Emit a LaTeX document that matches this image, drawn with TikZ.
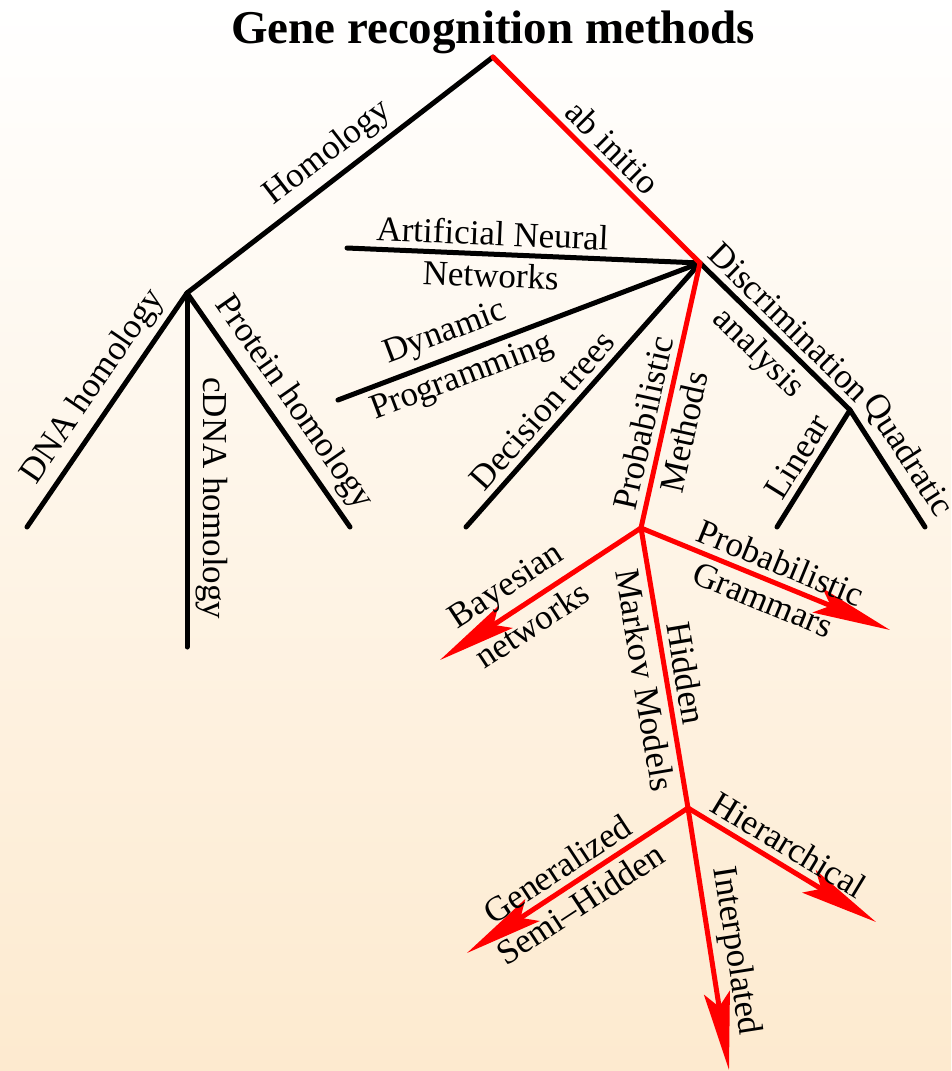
\documentclass[tikz,border=0pt]{standalone}
\usepackage{fontspec}
\setmainfont{Liberation Serif}
\usetikzlibrary{arrows.meta}
\definecolor{peach}{RGB}{253,234,207}

\begin{document}
\begin{tikzpicture}[x=1pt, y=-1pt, line cap=round]
\tikzset{
  bk/.style={line width=5pt, black},
  rd/.style={line width=5pt, red},
  ar/.style={rd, -{Stealth[length=78pt, width=26pt, inset=14pt]}},
  lab/.style={font=\fontsize{35}{40}\selectfont, text=black, sloped, inner sep=6pt}}

\shade[use as bounding box, top color=white, bottom color=peach] (0,0) rectangle (951,1071);
\node[font=\bfseries\fontsize{47}{52}\selectfont, anchor=base] (title) at (493,43) {Gene recognition methods};

% ---------------- branch points and leaves ----------------
\coordinate (root)  at (493,57);
\coordinate (hom)   at (187,293);
\coordinate (abi)   at (700,263);
\coordinate (dis)   at (850,410);
\coordinate (prob)  at (641,528);
\coordinate (hmm)   at (688,808);
\coordinate (dna)   at (27,527);
\coordinate (cdna)  at (187,647);
\coordinate (prot)  at (350,527);
\coordinate (ann)   at (347,248);
\coordinate (dyn)   at (338,400);
\coordinate (dec)   at (466,527);
\coordinate (lin)   at (777,527);
\coordinate (quad)  at (925,527);
\coordinate (bay)   at (440,660);
\coordinate (gram)  at (890,630);
\coordinate (gen)   at (467,953);
\coordinate (inter) at (729,1070);
\coordinate (hier)  at (876,922);

% ---------------- homology ----------------
\draw[bk] (hom) -- node[lab, above, pos=.51] (lhom) {Homology} (root);
\draw[bk] (hom) -- node[lab, above, pos=.46] (ldna) {DNA homology} (dna);
\draw[bk] (hom) -- node[lab, above, pos=.58] (lcdna) {cDNA homology} (cdna);
\draw[bk] (hom) -- node[lab, above, pos=.53] (lprot) {Protein homology} (prot);

% ---------------- ab initio, non-probabilistic ----------------
\draw[bk] (abi) -- node[lab, above, pos=.59] (lann) {Artificial Neural}
                   node[lab, below, pos=.59] (lnet) {Networks} (ann);
\draw[bk] (abi) -- node[lab, above, pos=.68] (ldyn) {Dynamic}
                   node[lab, below, pos=.68] (lprog) {Programming} (dyn);
\draw[bk] (abi) -- node[lab, above, pos=.61] (ldec) {Decision trees} (dec);
\draw[bk] (abi) -- node[lab, above, pos=.5] (ldis) {Discrimination}
                   node[lab, below, pos=.5] (lana) {analysis} (dis);
\draw[bk] (dis) -- node[lab, above, pos=.49] (llin) {Linear} (lin);
\draw[bk] (dis) -- node[lab, above, pos=.5] (lquad) {Quadratic} (quad);

% ---------------- ab initio, probabilistic (red) ----------------
\draw[rd] (root) -- node[lab, above, pos=.51] (labi) {ab initio} (abi);
\draw[rd] (abi) -- node[lab, above, pos=.62] (lpro) {Probabilistic}
                   node[lab, below, pos=.62] (lmet) {Methods} (prob);
\draw[ar] (prob) -- node[lab, above, pos=.6] (lbay) {Bayesian}
                    node[lab, below, pos=.6] (lbnet) {networks} (bay);
\draw[ar] (prob) -- node[lab, above, pos=.53] (lpg) {Probabilistic}
                    node[lab, below, pos=.52] (lgram) {Grammars} (gram);
\draw[rd] (prob) -- node[lab, above, pos=.53] (lhid) {Hidden}
                    node[lab, below, pos=.53] (lmm) {Markov Models} (hmm);
\draw[ar] (hmm) -- node[lab, above, pos=.54] (lgen) {Generalized}
                   node[lab, below, pos=.54] (lsemi) {Semi--Hidden} (gen);
\draw[ar] (hmm) -- node[lab, above, pos=.56] (lint) {Interpolated} (inter);
\draw[ar] (hmm) -- node[lab, above, pos=.48] (lhier) {Hierarchical} (hier);
\end{tikzpicture}
\end{document}
